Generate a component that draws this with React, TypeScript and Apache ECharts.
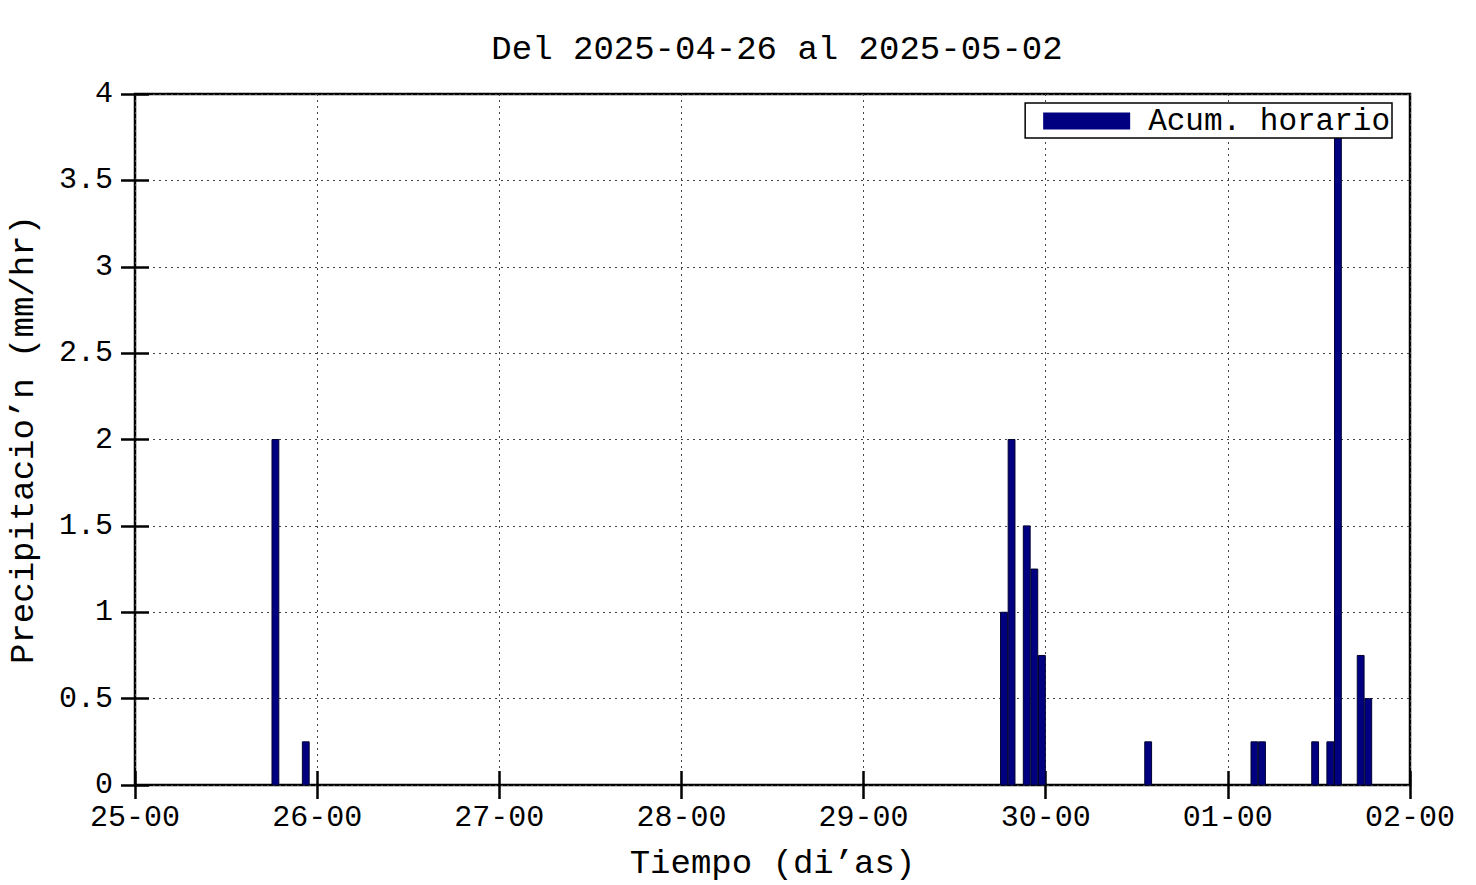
import React, { useEffect, useRef } from "react";
import * as echarts from "echarts";

// Hours since 2025-04-25 00:00 at which each hourly accumulation starts
const barHours = [18, 22, 114, 115, 117, 118, 119, 133, 147, 148, 155, 157, 158, 161, 162];
// Hourly precipitation (mm/hr)
const barValues = [2, 0.25, 1, 2, 1.5, 1.25, 0.75, 0.25, 0.25, 0.25, 0.25, 0.25, 3.8, 0.75, 0.5];
// X tick labels, one per day (every 24 h)
const dayLabels = ["25-00", "26-00", "27-00", "28-00", "29-00", "30-00", "01-00", "02-00"];

const FONT = "Liberation Mono";

export default function App() {
  const ref = useRef<HTMLDivElement>(null);
  useEffect(() => {
    if (!ref.current) return;
    const chart = echarts.init(ref.current, null, { renderer: "svg" });
    const data = barHours.map((h, i) => [h, barValues[i]]);
    const tickCommon = {
      show: true,
      inside: true,
      length: 14,
      lineStyle: { color: "#000", width: 2.5 },
    };
    const splitDotted = {
      show: true,
      lineStyle: { color: "#444", width: 1, type: [2, 4] as number[] },
    };
    chart.setOption({
      animation: false,
      backgroundColor: "#fff",
      title: {
        text: "Del 2025-04-26 al 2025-05-02",
        left: 772,
        top: 28,
        textAlign: "center",
        textStyle: { fontFamily: FONT, fontSize: 34, fontWeight: "normal", color: "#000" },
      },
      legend: {
        right: 84,
        top: 103,
        data: [{ name: "Acum. horario", icon: "rect" }],
        itemWidth: 87,
        itemHeight: 17,
        padding: [2, 2, 1, 18],
        borderColor: "#000",
        borderWidth: 1.5,
        backgroundColor: "#fff",
        textStyle: { fontFamily: FONT, fontSize: 31, color: "#000", lineHeight: 30, padding: [2, 0, 0, 13] },
      },
      grid: {
        left: 135,
        right: 66,
        top: 94,
        bottom: 100,
        outerBoundsMode: "none",
        containLabel: false,
        show: true,
        borderColor: "#000",
        borderWidth: 2.5,
        backgroundColor: "transparent",
      },
      xAxis: [
        {
          type: "value",
          min: 0,
          max: 168,
          interval: 24,
          position: "bottom",
          axisLine: { show: false },
          axisTick: tickCommon,
          splitLine: splitDotted,
          axisLabel: {
            formatter: (v: number) => dayLabels[Math.round(v / 24)],
            fontFamily: FONT,
            fontSize: 30,
            color: "#000",
            margin: 18,
          },
          name: "Tiempo (di’as)",
          nameLocation: "middle",
          nameGap: 62,
          nameTextStyle: { fontFamily: FONT, fontSize: 34, color: "#000", lineHeight: 34 },
        },
        {
          type: "value",
          min: 0,
          max: 168,
          interval: 24,
          position: "top",
          axisLine: { show: false },
          axisTick: tickCommon,
          splitLine: { show: false },
          axisLabel: { show: false },
        },
      ],
      yAxis: [
        {
          type: "value",
          min: 0,
          max: 4,
          interval: 0.5,
          position: "left",
          axisLine: { show: false },
          axisTick: tickCommon,
          splitLine: splitDotted,
          axisLabel: {
            formatter: (v: number) => String(v),
            fontFamily: FONT,
            fontSize: 30,
            color: "#000",
            margin: 22,
          },
          name: "Precipitacio’n (mm/hr)",
          nameLocation: "middle",
          nameGap: 94,
          nameTextStyle: { fontFamily: FONT, fontSize: 34, color: "#000" },
        },
        {
          type: "value",
          min: 0,
          max: 4,
          interval: 0.5,
          position: "right",
          axisLine: { show: false },
          axisTick: tickCommon,
          splitLine: { show: false },
          axisLabel: { show: false },
        },
      ],
      series: [
        {
          name: "Acum. horario",
          type: "custom",
          xAxisIndex: 0,
          yAxisIndex: 0,
          itemStyle: { color: "#000080" },
          encode: { x: 0, y: 1 },
          data,
          renderItem: (params: any, api: any) => {
            const h = api.value(0);
            const v = api.value(1);
            const p0 = api.coord([h + 0.05, v]);
            const p1 = api.coord([h + 0.95, 0]);
            return {
              type: "rect",
              shape: { x: p0[0], y: p0[1], width: p1[0] - p0[0], height: p1[1] - p0[1] },
              style: { fill: "#000080", stroke: "#000030", lineWidth: 1 },
            };
          },
        },
      ],
    });
    return () => chart.dispose();
  }, []);
  return (
    <div
      ref={ref}
      style={{ position: "fixed", left: 0, top: 0, width: 1476, height: 885, background: "#fff" }}
    />
  );
}
